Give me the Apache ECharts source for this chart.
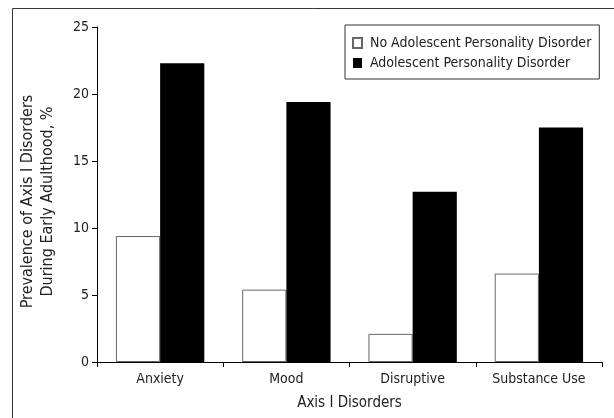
<!DOCTYPE html>
<html>
<head>
<meta charset="utf-8">
<script src="https://cdn.jsdelivr.net/npm/echarts@6/dist/echarts.min.js"></script>
<style>
  html, body { margin: 0; padding: 0; background: #fff; }
  #main { width: 614px; height: 418px; }
</style>
</head>
<body>
<div id="main"></div>
<script>
// 数据
var categories = ['Anxiety', 'Mood', 'Disruptive', 'Substance Use'];
var noPdValues = [9.4, 5.4, 2.1, 6.6];
var pdValues = [22.3, 19.4, 12.7, 17.5];
var seriesNames = ['No Adolescent Personality Disorder', 'Adolescent Personality Disorder'];

var FONT = '"Liberation Sans Narrow", "Arial Narrow", "DejaVu Sans Condensed", sans-serif';
var TXT = '#222';

var chart = echarts.init(document.getElementById('main'));
var option = {
    backgroundColor: '#fff',
    animation: false,
    textStyle: { fontFamily: FONT, color: TXT },
    // 外框
    graphic: [{
        type: 'rect',
        shape: { x: 12.5, y: 8.5, width: 700, height: 500 },
        style: { fill: 'none', stroke: '#333', lineWidth: 1 },
        silent: true
    }],
    grid: { left: 97, right: 12, top: 27, bottom: 56 },
    legend: {
        orient: 'vertical',
        left: 345, top: 25,
        width: 254,
        padding: [11, 8, 9, 7],
        itemGap: 6,
        itemWidth: 9, itemHeight: 10,
        borderColor: '#333', borderWidth: 1,
        backgroundColor: '#fff',
        icon: 'rect',
        textStyle: { fontFamily: FONT, fontSize: 14, color: TXT, padding: [0, 0, 0, 3] },
        data: seriesNames
    },
    xAxis: {
        type: 'category',
        data: categories,
        name: 'Axis I Disorders',
        nameLocation: 'middle',
        nameGap: 34,
        nameTextStyle: { fontFamily: FONT, fontSize: 15, color: TXT },
        axisLine: { lineStyle: { color: '#000', width: 1 } },
        axisTick: { show: true, length: 5, lineStyle: { color: '#000' } },
        axisLabel: { fontFamily: FONT, fontSize: 14, color: TXT, margin: 10 }
    },
    yAxis: {
        type: 'value',
        min: 0, max: 25, interval: 5,
        name: 'Prevalence of Axis I Disorders\nDuring Early Adulthood, %',
        nameLocation: 'middle',
        nameGap: 39,
        nameTextStyle: { fontFamily: FONT, fontSize: 16, color: TXT, lineHeight: 20, padding: [0, 14, 0, 0] },
        splitLine: { show: false },
        axisLine: { show: true, lineStyle: { color: '#000', width: 1 } },
        axisTick: { show: true, length: 5, lineStyle: { color: '#000' } },
        axisLabel: { fontFamily: FONT, fontSize: 14, color: TXT, margin: 8 }
    },
    series: [{
        name: seriesNames[0],
        type: 'bar',
        data: noPdValues,
        barWidth: '35%',
        barGap: '0%',
        itemStyle: { color: '#fff', borderColor: '#666', borderWidth: 1 }
    }, {
        name: seriesNames[1],
        type: 'bar',
        data: pdValues,
        barWidth: '35%',
        barGap: '0%',
        itemStyle: { color: '#000' }
    }]
};
chart.setOption(option);
</script>
</body>
</html>
